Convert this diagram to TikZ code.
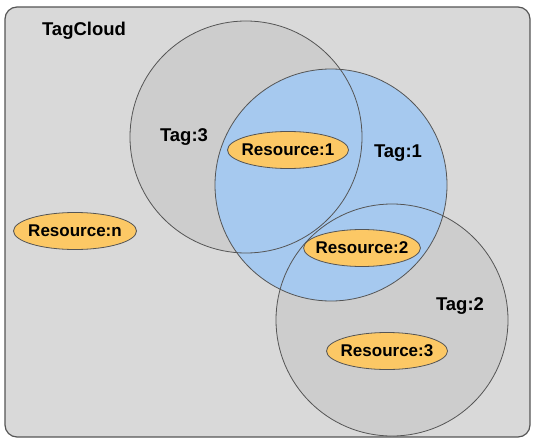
\documentclass[tikz,border=0pt]{standalone}
\usepackage{fontspec}
\setmainfont{Liberation Sans}
\usetikzlibrary{shapes.geometric}
\definecolor{cloudgray}{HTML}{D9D9D9}
\definecolor{taggray}{HTML}{CDCDCD}
\definecolor{tagblue}{HTML}{A6C9EF}
\definecolor{resyellow}{HTML}{FCC865}
\definecolor{rimgray}{HTML}{555555}

\begin{document}
\begin{tikzpicture}[x=1pt,y=-1pt,
    tagset/.style={circle,minimum size=232pt,inner sep=0pt},
    taglabel/.style={anchor=base,inner sep=0pt,font=\bfseries\fontsize{18.5}{20}\selectfont},
    res/.style={ellipse,draw=rimgray,line width=0.8pt,fill=resyellow,
      minimum width=121pt,minimum height=37pt,inner xsep=-5pt,inner ysep=0pt,
      font=\bfseries\fontsize{17}{19}\selectfont}]
  \useasboundingbox (0,0) rectangle (534,441);
  \draw[rimgray,fill=cloudgray,line width=1.2pt,rounded corners=12pt] (5,7) rectangle (530,437);

  % the three tags, fills first
  \node[tagset,fill=taggray] (tag3) at (246,137) {};
  \node[tagset,fill=taggray] (tag2) at (392,320) {};
  \node[tagset,fill=tagblue] (tag1) at (331,185) {};
  \draw[rimgray,line width=0.8pt] (tag3.center) circle (116pt);
  \draw[rimgray,line width=0.8pt] (tag1.center) circle (116pt);
  \draw[rimgray,line width=0.8pt] (tag2.center) circle (116pt);

  \node[taglabel] (cloud) at (84,36) {TagCloud};
  \node[taglabel] (t3) at (184,141.5) {Tag:3};
  \node[taglabel] (t1) at (398,157) {Tag:1};
  \node[taglabel] (t2) at (460,310) {Tag:2};

  \node[res] (r1) at (288,150) {Resource:1};
  \node[res,minimum width=114pt] (r2) at (362,248) {Resource:2};
  \node[res] (r3) at (387,351) {Resource:3};
  \node[res,minimum width=123pt] (rn) at (75,231) {Resource:n};
\end{tikzpicture}
\end{document}
